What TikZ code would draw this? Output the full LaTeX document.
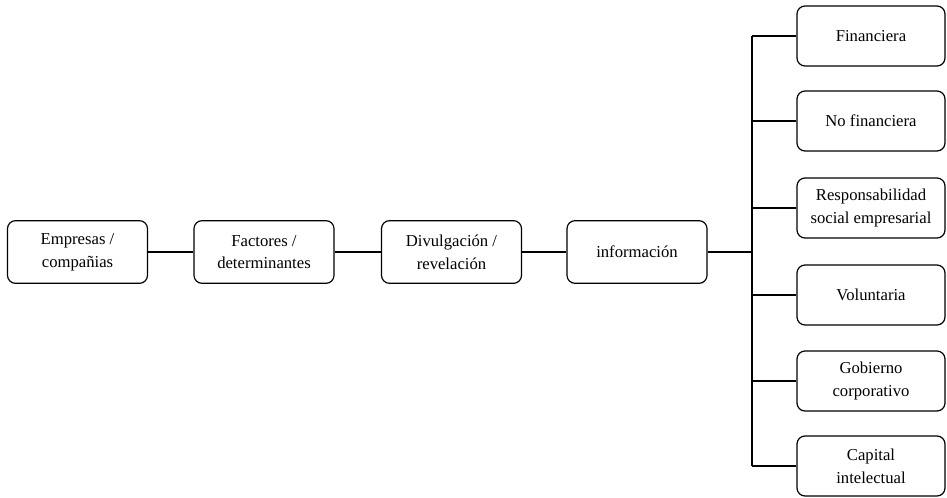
\documentclass[tikz,border=0pt]{standalone}
\usepackage{fontspec}
\setmainfont{Liberation Serif}
\usepackage{tikz}
\pgfdeclarelayer{edgelayer}
\pgfdeclarelayer{nodelayer}
\pgfsetlayers{edgelayer,nodelayer,main}
\tikzstyle{none}=[inner sep=0pt]
\tikzstyle{mainbox}=[rectangle,rounded corners=6pt,draw=black,fill=white,line width=0.9pt,minimum width=105pt,minimum height=47pt,align=center,font=\fontsize{12.5}{17}\selectfont]
\tikzstyle{typebox}=[rectangle,rounded corners=6pt,draw=black,fill=white,line width=0.9pt,minimum width=111pt,minimum height=45pt,align=center,font=\fontsize{12.5}{17}\selectfont]
\tikzstyle{simple}=[-,draw=black,line width=0.9pt]

\begin{document}
\begin{tikzpicture}[x=0.75pt,y=-0.75pt]
	\useasboundingbox (0,0) rectangle (947,497);
	\begin{pgfonlayer}{nodelayer}
		\node [style=mainbox] (0) at (77.5, 252) {Empresas /\\compañias};
		\node [style=mainbox] (1) at (264, 252) {Factores /\\determinantes};
		\node [style=mainbox] (2) at (451.5, 252) {Divulgación /\\revelación};
		\node [style=mainbox] (3) at (637, 252) {información};
		\node [style=typebox] (4) at (871, 36) {Financiera};
		\node [style=typebox] (5) at (871, 121) {No financiera};
		\node [style=typebox] (6) at (871, 208) {Responsabilidad\\social empresarial};
		\node [style=typebox] (7) at (871, 295) {Voluntaria};
		\node [style=typebox] (8) at (871, 381) {Gobierno\\corporativo};
		\node [style=typebox] (9) at (871, 466) {Capital\\intelectual};
		\node [style=none] (10) at (752, 36) {};
		\node [style=none] (11) at (752, 121) {};
		\node [style=none] (12) at (752, 208) {};
		\node [style=none] (13) at (752, 252) {};
		\node [style=none] (14) at (752, 295) {};
		\node [style=none] (15) at (752, 381) {};
		\node [style=none] (16) at (752, 466) {};
	\end{pgfonlayer}
	\begin{pgfonlayer}{edgelayer}
		\draw [style=simple] (0) to (1);
		\draw [style=simple] (1) to (2);
		\draw [style=simple] (2) to (3);
		\draw [style=simple] (3) to (13.center);
		\draw [style=simple] (10.center) to (16.center);
		\draw [style=simple] (10.center) to (4);
		\draw [style=simple] (11.center) to (5);
		\draw [style=simple] (12.center) to (6);
		\draw [style=simple] (14.center) to (7);
		\draw [style=simple] (15.center) to (8);
		\draw [style=simple] (16.center) to (9);
	\end{pgfonlayer}
\end{tikzpicture}
\end{document}
